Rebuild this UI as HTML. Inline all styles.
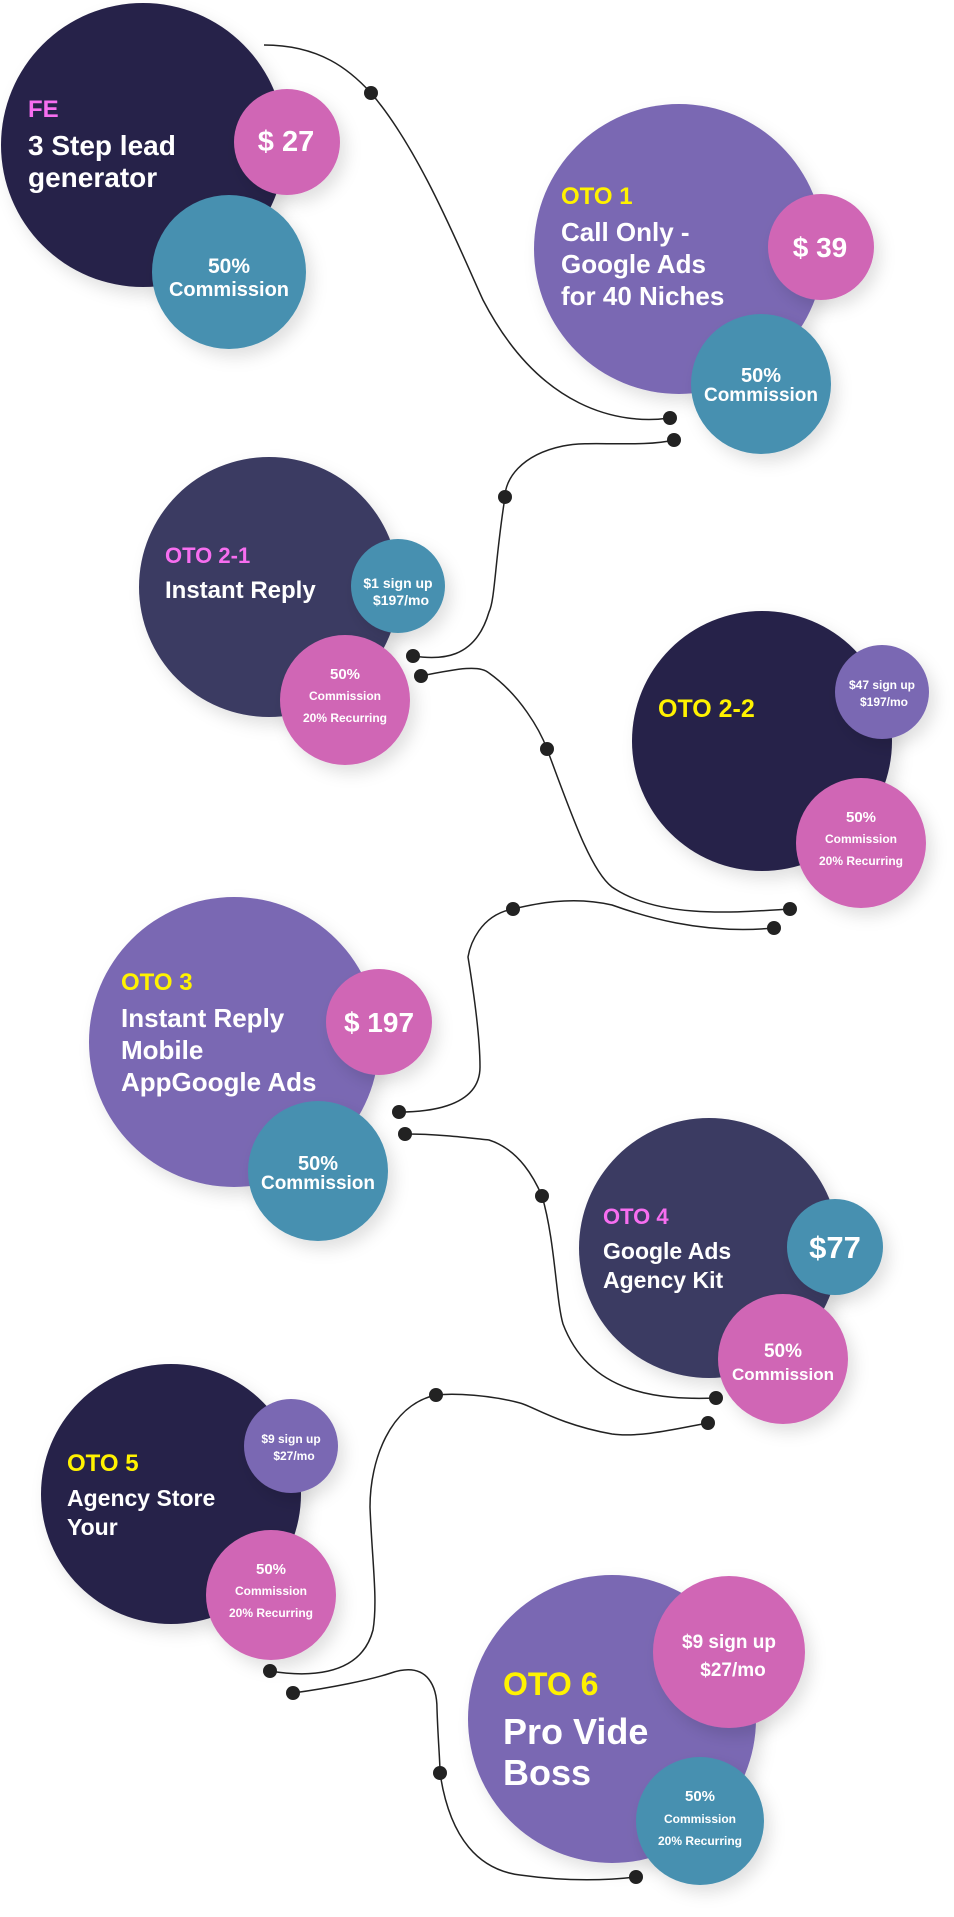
<!DOCTYPE html>
<html><head><meta charset="utf-8"><style>
html,body{margin:0;padding:0;background:#fff;}
svg{display:block;}
text{font-family:"Liberation Sans",sans-serif;font-weight:bold;}
</style></head><body>
<svg width="954" height="1917" viewBox="0 0 954 1917" xmlns="http://www.w3.org/2000/svg">
<defs>
<filter id="sh" x="-30%" y="-30%" width="160%" height="160%">
<feDropShadow dx="6" dy="8" stdDeviation="8" flood-color="#000" flood-opacity="0.12"/>
</filter>
</defs>
<g fill="none" stroke="#222" stroke-width="1.5">
<path d="M264 45 C320 45 350 70 371 93 C420 150 460 250 483 300 C540 410 620 425 670 418"/>
<path d="M674 440 C640 448 590 440 563 446 C520 455 505 480 505 497 C495 560 495 600 489 612 C475 660 440 660 413 656"/>
<path d="M421 676 C460 668 480 665 489 673 C520 695 540 730 547 749 C570 810 590 870 612 887 C660 920 740 912 790 909"/>
<path d="M774 928 C700 935 640 915 612 905 C570 895 530 905 513 909 C480 915 470 945 468 957 C475 1000 480 1040 480 1067 C480 1110 420 1112 399 1112"/>
<path d="M405 1134 C440 1134 470 1138 489 1140 C520 1150 535 1180 542 1196 C555 1240 556 1300 563 1324 C590 1395 660 1400 716 1398"/>
<path d="M708 1423 C680 1428 640 1438 612 1434 C560 1425 530 1405 520 1403 C490 1395 455 1393 436 1395 C390 1405 370 1460 370 1507 C372 1560 378 1600 373 1630 C360 1680 300 1676 270 1671"/>
<path d="M293 1693 C330 1688 370 1680 391 1673 C430 1660 437 1690 437 1709 C438 1740 440 1760 440 1773 C450 1840 480 1870 520 1875 C570 1882 610 1880 636 1877"/>
</g>
<g fill="#222">
<circle cx="371" cy="93" r="7"/><circle cx="670" cy="418" r="7"/>
<circle cx="674" cy="440" r="7"/><circle cx="505" cy="497" r="7"/><circle cx="413" cy="656" r="7"/>
<circle cx="421" cy="676" r="7"/><circle cx="547" cy="749" r="7"/><circle cx="790" cy="909" r="7"/>
<circle cx="774" cy="928" r="7"/><circle cx="513" cy="909" r="7"/><circle cx="399" cy="1112" r="7"/>
<circle cx="405" cy="1134" r="7"/><circle cx="542" cy="1196" r="7"/><circle cx="716" cy="1398" r="7"/>
<circle cx="708" cy="1423" r="7"/><circle cx="436" cy="1395" r="7"/><circle cx="270" cy="1671" r="7"/>
<circle cx="293" cy="1693" r="7"/><circle cx="440" cy="1773" r="7"/><circle cx="636" cy="1877" r="7"/>
</g>

<!-- FE -->
<circle cx="143" cy="145" r="142" fill="#262248" filter="url(#sh)"/>
<circle cx="287" cy="142" r="53" fill="#d066b5" filter="url(#sh)"/>
<circle cx="229" cy="272" r="77" fill="#4690b0" filter="url(#sh)"/>
<text x="28" y="117" font-size="24" fill="#f76ef0">FE</text>
<text x="28" y="155" font-size="28" fill="#fff">3 Step lead</text>
<text x="28" y="187" font-size="28" fill="#fff">generator</text>
<text x="286" y="151" font-size="29" fill="#fff" text-anchor="middle">$ 27</text>
<text x="229" y="273" font-size="21" fill="#fff" text-anchor="middle">50%</text>
<text x="229" y="296" font-size="20" fill="#fff" text-anchor="middle">Commission</text>

<!-- OTO1 -->
<circle cx="679" cy="249" r="145" fill="#7a67b3" filter="url(#sh)"/>
<circle cx="821" cy="247" r="53" fill="#d066b5" filter="url(#sh)"/>
<circle cx="761" cy="384" r="70" fill="#4690b0" filter="url(#sh)"/>
<text x="561" y="204" font-size="24" fill="#fff200">OTO 1</text>
<text x="561" y="241" font-size="26" fill="#fff">Call Only -</text>
<text x="561" y="273" font-size="26" fill="#fff">Google Ads</text>
<text x="561" y="305" font-size="26" fill="#fff">for 40 Niches</text>
<text x="820" y="257" font-size="28" fill="#fff" text-anchor="middle">$ 39</text>
<text x="761" y="382" font-size="20" fill="#fff" text-anchor="middle">50%</text>
<text x="761" y="401" font-size="19" fill="#fff" text-anchor="middle">Commission</text>

<!-- OTO 2-1 -->
<circle cx="269" cy="587" r="130" fill="#3b3a62" filter="url(#sh)"/>
<circle cx="398" cy="586" r="47" fill="#4690b0" filter="url(#sh)"/>
<circle cx="345" cy="700" r="65" fill="#d066b5" filter="url(#sh)"/>
<text x="165" y="563" font-size="22" fill="#f76ef0">OTO 2-1</text>
<text x="165" y="598" font-size="24" fill="#fff">Instant Reply</text>
<text x="398" y="588" font-size="14" fill="#fff" text-anchor="middle">$1 sign up</text>
<text x="401" y="605" font-size="14" fill="#fff" text-anchor="middle">$197/mo</text>
<text x="345" y="679" font-size="15" fill="#fff" text-anchor="middle">50%</text>
<text x="345" y="700" font-size="12" fill="#fff" text-anchor="middle">Commission</text>
<text x="345" y="722" font-size="12" fill="#fff" text-anchor="middle">20% Recurring</text>

<!-- OTO 2-2 -->
<circle cx="762" cy="741" r="130" fill="#262248" filter="url(#sh)"/>
<circle cx="882" cy="692" r="47" fill="#7a67b3" filter="url(#sh)"/>
<circle cx="861" cy="843" r="65" fill="#d066b5" filter="url(#sh)"/>
<text x="658" y="717" font-size="25" fill="#fff200">OTO 2-2</text>
<text x="882" y="689" font-size="12" fill="#fff" text-anchor="middle">$47 sign up</text>
<text x="884" y="706" font-size="12" fill="#fff" text-anchor="middle">$197/mo</text>
<text x="861" y="822" font-size="15" fill="#fff" text-anchor="middle">50%</text>
<text x="861" y="843" font-size="12" fill="#fff" text-anchor="middle">Commission</text>
<text x="861" y="865" font-size="12" fill="#fff" text-anchor="middle">20% Recurring</text>

<!-- OTO3 -->
<circle cx="234" cy="1042" r="145" fill="#7a67b3" filter="url(#sh)"/>
<circle cx="379" cy="1022" r="53" fill="#d066b5" filter="url(#sh)"/>
<circle cx="318" cy="1171" r="70" fill="#4690b0" filter="url(#sh)"/>
<text x="121" y="990" font-size="24" fill="#fff200">OTO 3</text>
<text x="121" y="1027" font-size="26" fill="#fff">Instant Reply</text>
<text x="121" y="1059" font-size="26" fill="#fff">Mobile</text>
<text x="121" y="1091" font-size="26" fill="#fff">AppGoogle Ads</text>
<text x="379" y="1032" font-size="28" fill="#fff" text-anchor="middle">$ 197</text>
<text x="318" y="1170" font-size="20" fill="#fff" text-anchor="middle">50%</text>
<text x="318" y="1189" font-size="19" fill="#fff" text-anchor="middle">Commission</text>

<!-- OTO4 -->
<circle cx="709" cy="1248" r="130" fill="#3b3a62" filter="url(#sh)"/>
<circle cx="835" cy="1247" r="48" fill="#4690b0" filter="url(#sh)"/>
<circle cx="783" cy="1359" r="65" fill="#d066b5" filter="url(#sh)"/>
<text x="603" y="1224" font-size="22" fill="#f76ef0">OTO 4</text>
<text x="603" y="1259" font-size="23" fill="#fff">Google Ads</text>
<text x="603" y="1288" font-size="23" fill="#fff">Agency Kit</text>
<text x="835" y="1258" font-size="31" fill="#fff" text-anchor="middle">$77</text>
<text x="783" y="1357" font-size="19" fill="#fff" text-anchor="middle">50%</text>
<text x="783" y="1380" font-size="17" fill="#fff" text-anchor="middle">Commission</text>

<!-- OTO5 -->
<circle cx="171" cy="1494" r="130" fill="#262248" filter="url(#sh)"/>
<circle cx="291" cy="1446" r="47" fill="#7a67b3" filter="url(#sh)"/>
<circle cx="271" cy="1595" r="65" fill="#d066b5" filter="url(#sh)"/>
<text x="67" y="1471" font-size="24" fill="#fff200">OTO 5</text>
<text x="67" y="1506" font-size="23" fill="#fff">Agency Store</text>
<text x="67" y="1535" font-size="23" fill="#fff">Your</text>
<text x="291" y="1443" font-size="12" fill="#fff" text-anchor="middle">$9 sign up</text>
<text x="294" y="1460" font-size="12" fill="#fff" text-anchor="middle">$27/mo</text>
<text x="271" y="1574" font-size="15" fill="#fff" text-anchor="middle">50%</text>
<text x="271" y="1595" font-size="12" fill="#fff" text-anchor="middle">Commission</text>
<text x="271" y="1617" font-size="12" fill="#fff" text-anchor="middle">20% Recurring</text>

<!-- OTO6 -->
<circle cx="612" cy="1719" r="144" fill="#7a67b3" filter="url(#sh)"/>
<circle cx="729" cy="1652" r="76" fill="#d066b5" filter="url(#sh)"/>
<circle cx="700" cy="1821" r="64" fill="#4690b0" filter="url(#sh)"/>
<text x="503" y="1695" font-size="32" fill="#fff200">OTO 6</text>
<text x="503" y="1744" font-size="36" fill="#fff">Pro Vide</text>
<text x="503" y="1785" font-size="36" fill="#fff">Boss</text>
<text x="729" y="1648" font-size="19" fill="#fff" text-anchor="middle">$9 sign up</text>
<text x="733" y="1676" font-size="19" fill="#fff" text-anchor="middle">$27/mo</text>
<text x="700" y="1801" font-size="15" fill="#fff" text-anchor="middle">50%</text>
<text x="700" y="1823" font-size="12" fill="#fff" text-anchor="middle">Commission</text>
<text x="700" y="1845" font-size="12" fill="#fff" text-anchor="middle">20% Recurring</text>
</svg>
</body></html>
